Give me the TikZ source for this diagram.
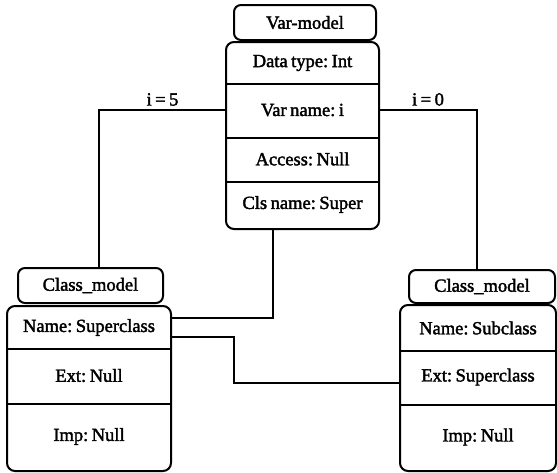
\documentclass[tikz,border=0pt]{standalone}
\usepackage{fontspec}
\newfontfamily\boxfont{Liberation Serif}[FakeBold=2]
\newcommand\boxtext{\boxfont\fontsize{18.5}{20}\selectfont\frenchspacing\spaceskip=3.5pt plus 1pt minus 1pt\relax}
\usetikzlibrary{fit}
\begin{document}
\begin{tikzpicture}[x=1pt,y=-1pt,line width=2pt,
		font=\boxtext,
		head/.style={draw,rounded corners=7pt,inner sep=0pt},
		row/.style={inner sep=0pt},
		box/.style={draw,rounded corners=8pt,inner sep=0pt}]
		\useasboundingbox (0,0) rectangle (557,472);
		% Var-model
		\node[head,minimum width=142pt,minimum height=35pt] (vhead) at (305,22.5) {Var-model};
		\node[row,minimum width=151pt,minimum height=40pt] (vtype) at (302.5,63) {Data type: Int};
		\node[row,minimum width=151pt,minimum height=54pt] (vname) at (302.5,110) {Var name: i};
		\node[row,minimum width=151pt,minimum height=44pt] (vacc) at (302.5,159) {Access: Null};
		\node[row,minimum width=151pt,minimum height=47pt] (vcls) at (302.5,204.5) {Cls name: Super};
		\node[box,fit=(vtype)(vcls)] (vbody) {};
		\draw (vtype.south west) -- (vtype.south east);
		\draw (vname.south west) -- (vname.south east);
		\draw (vacc.south west) -- (vacc.south east);
		% Class_model (left)
		\node[head,minimum width=145pt,minimum height=35pt] (lhead) at (90.5,285.5) {Class\_model};
		\node[row,minimum width=162pt,minimum height=41pt] (lname) at (89,327.5) {Name: Superclass};
		\node[row,minimum width=162pt,minimum height=55pt] (lext) at (89,375.5) {Ext: Null};
		\node[row,minimum width=162pt,minimum height=67pt] (limp) at (89,436.5) {Imp: Null};
		\node[box,fit=(lname)(limp)] (lbody) {};
		\draw (lname.south west) -- (lname.south east);
		\draw (lext.south west) -- (lext.south east);
		% Class_model (right)
		\node[head,minimum width=146pt,minimum height=33pt] (rhead) at (482,286.5) {Class\_model};
		\node[row,minimum width=154pt,minimum height=44pt] (rname) at (478,328) {Name: Subclass};
		\node[row,minimum width=154pt,minimum height=54pt] (rext) at (478,377) {Ext: Superclass};
		\node[row,minimum width=154pt,minimum height=66pt] (rimp) at (478,437) {Imp: Null};
		\node[box,fit=(rname)(rimp)] (rbody) {};
		\draw (rname.south west) -- (rname.south east);
		\draw (rext.south west) -- (rext.south east);
		% links
		\draw (vname.west) -| node[pos=.25,above] {i = 5} ([xshift=8.5pt]lhead.north);
		\draw (vname.east) -| node[pos=.25,above] {i = 0} ([xshift=-5pt]rhead.north);
		\draw ([xshift=-30pt]vcls.south) |- ([yshift=10pt]lname.east);
		\draw ([yshift=-9pt]lname.east) -- ++(63,0) |- ([yshift=-6pt]rext.west);
	\end{tikzpicture}
\end{document}
